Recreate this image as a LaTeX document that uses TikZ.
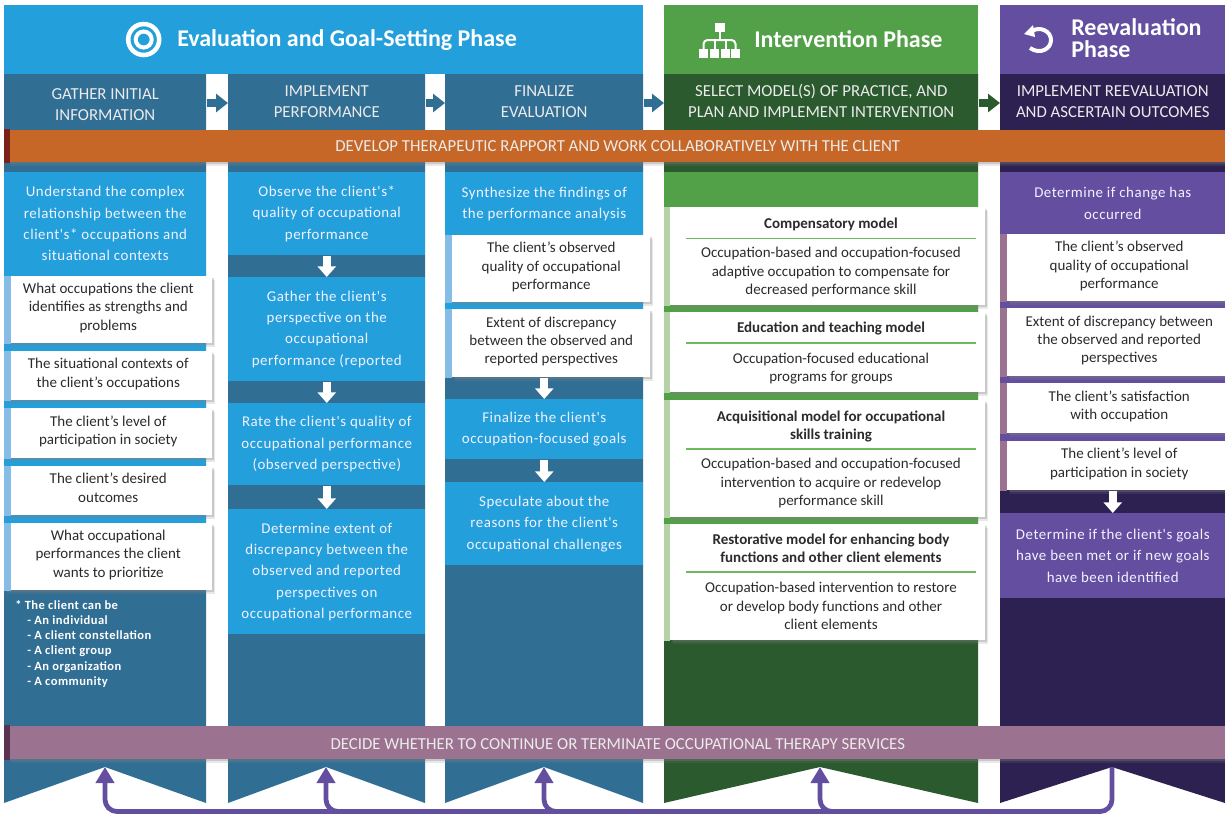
\documentclass[tikz,border=0pt]{standalone}
\usepackage{fontspec}
\setmainfont{Carlito}
\newfontfamily\spaced[LetterSpace=3.5]{Carlito}
\usepackage{tikz}
\usetikzlibrary{arrows.meta}
\usetikzlibrary{shadows}

\definecolor{ltblue}{HTML}{239FDB}
\definecolor{dkblue}{HTML}{316E94}
\definecolor{stripblue}{HTML}{85BDE6}
\definecolor{ltgreen}{HTML}{52A047}
\definecolor{dkgreen}{HTML}{2A5A2E}
\definecolor{stripgreen}{HTML}{B5D3A6}
\definecolor{rulegreen}{HTML}{6CB95E}
\definecolor{ltpurple}{HTML}{634EA0}
\definecolor{dkpurple}{HTML}{2D2152}
\definecolor{mauve}{HTML}{9B728F}
\definecolor{dkmauve}{HTML}{5A3350}
\definecolor{orange}{HTML}{C66627}
\definecolor{dkorange}{HTML}{7A2218}
\definecolor{boxtext}{HTML}{2B2B2B}

\begin{document}
\begin{tikzpicture}[x=0.75pt,y=-0.75pt]
\tikzstyle{wd}=[minimum width=#1*0.75pt]
\tikzstyle{ht}=[minimum height=#1*0.75pt]
\tikzstyle{panel}=[anchor=north west,inner sep=0pt,align=center]
\tikzstyle{phase}=[anchor=west,inner sep=0pt,align=left,text=white,font=\fontsize{18}{16.5}\selectfont\bfseries]
\tikzstyle{headtext}=[panel,text=white!92!black,font=\fontsize{12.6}{16}\selectfont]
\tikzstyle{body}=[panel,text=white!95!blue,font=\spaced\fontsize{11.2}{16}\selectfont,execute at begin node={\rule{0pt}{12.5pt}}]
\tikzstyle{whitebox}=[panel,fill=white,text=boxtext,font=\fontsize{11.25}{13.7}\selectfont,execute at end node={\rule[-4.5pt]{0pt}{0pt}},
  drop shadow={shadow xshift=2pt,shadow yshift=-2.5pt,opacity=0.18},drop shadow={shadow xshift=1pt,shadow yshift=-1.5pt,opacity=0.3}]
\tikzstyle{band}=[panel,text=white!92!black,font=\fontsize{12.6}{14}\selectfont,
  drop shadow={shadow xshift=0pt,shadow yshift=-3pt,opacity=0.18},drop shadow={shadow xshift=0pt,shadow yshift=-1.5pt,opacity=0.3}]
\tikzstyle{modeltitle}=[inner sep=0pt,align=center,text=boxtext,font=\fontsize{11.25}{13.7}\selectfont\bfseries]
\tikzstyle{modeltext}=[inner sep=0pt,align=center,text=boxtext,font=\fontsize{11.25}{13.7}\selectfont]
\tikzstyle{rule}=[rulegreen,line width=0.9pt]
\tikzstyle{stepto}=[line width=6pt,-{Triangle[length=9pt,width=13.5pt]}]
\tikzstyle{downto}=[white,line width=6pt,-{Triangle[length=8pt,width=13.5pt]}]
\tikzstyle{backline}=[ltpurple,line width=3.6pt,rounded corners=9pt]
\tikzstyle{backto}=[backline,-{Triangle[length=12pt,width=13.5pt]}]
\useasboundingbox (0,0) rectangle (1225,815);

% columns with their notched feet
\fill[dkblue] (4,74) -- (206,74) -- (206,803) -- (105,767) -- (4,803) -- cycle;
\fill[dkblue] (228,74) -- (425,74) -- (425,803) -- (326,767) -- (228,803) -- cycle;
\fill[dkblue] (445,74) -- (643,74) -- (643,803) -- (544,767) -- (445,803) -- cycle;
\fill[dkgreen] (664,74) -- (978,74) -- (978,803) -- (820,767) -- (664,803) -- cycle;
\fill[dkpurple] (1000,74) -- (1225,74) -- (1225,803) -- (1112,767) -- (1000,803) -- cycle;
\coordinate (A1) at (105,767);
\coordinate (A2) at (326,767);
\coordinate (A3) at (544,767);
\coordinate (A4) at (820,767);
\coordinate (A5) at (1112,767);
\coordinate (L) at (0,811.5);
\coordinate (Y) at (0,103);

% phase titles
\node[panel,fill=ltblue,wd=639,ht=69] (T1) at (4,5) {};
\node[panel,fill=ltgreen,wd=314,ht=69] (T2) at (664,5) {};
\node[panel,fill=ltpurple,wd=225,ht=69] (T3) at (1000,5) {};
\node[phase] (T1text) at (177,40) {Evaluation and Goal-Setting Phase};
\node[phase] (T2text) at (754,39) {Intervention Phase};
\node[phase] (T3text) at (1071,38) {Reevaluation\\Phase};

% icons
\draw[white,line width=3.4pt] (143.7,39.5) circle (15.5);
\draw[white,line width=3pt] (143.7,39.5) circle (8);
\fill[white] (715,23) rectangle (725,32);
\fill[white] (699,49) rectangle (708,58);
\fill[white] (710,49) rectangle (719,58);
\fill[white] (721,49) rectangle (730,58);
\fill[white] (731,49) rectangle (740,58);
\draw[white,line width=1.5pt,rounded corners=3pt] (703.5,50) -- (703.5,40) -- (735.5,40) -- (735.5,50);
\draw[white,line width=1.5pt] (720,31) -- (720,40) (714.5,40) -- (714.5,50) (725.5,40) -- (725.5,50);
\draw[white,line width=3pt] (1032,31) .. controls (1040,26) and (1051,31) .. (1051,40) .. controls (1051,49) and (1040,55) .. (1030,48);
\fill[white] (1024,34) -- (1033,25) -- (1035,37) -- cycle;

% step headers
\node[headtext,wd=202,ht=52] (H1) at (4,78) {GATHER INITIAL\\INFORMATION};
\node[headtext,wd=197,ht=53] (H2) at (228,75) {IMPLEMENT\\PERFORMANCE};
\node[headtext,wd=198,ht=53] (H3) at (445,75) {FINALIZE\\EVALUATION};
\node[headtext,wd=314,ht=53] (H4) at (664,74) {SELECT MODEL(S) OF PRACTICE, AND\\PLAN AND IMPLEMENT INTERVENTION};
\node[headtext,wd=225,ht=53] (H5) at (1000,75) {IMPLEMENT REEVALUATION\\AND ASCERTAIN OUTCOMES};
\draw[stepto,dkblue] (H1.east |- Y) -- (H2.west |- Y);
\draw[stepto,dkblue] (H2.east |- Y) -- (H3.west |- Y);
\draw[stepto,dkblue] (H3.east |- Y) -- (H4.west |- Y);
\draw[stepto,dkgreen] (H4.east |- Y) -- (H5.west |- Y);

% first column
\node[body,fill=ltblue,wd=202,ht=103] (P11) at (4,172) {Understand the complex\\relationship between the\\client's* occupations and\\situational contexts};
\fill[ltblue] (4,275) rectangle (206,590);
\node[whitebox,wd=208,ht=67] (B11) at (4,276) {What occupations the client\\identifies as strengths and\\problems};
\node[whitebox,wd=208,ht=49] (B12) at (4,351) {The situational contexts of\\the client's occupations};
\node[whitebox,wd=208,ht=50] (B13) at (4,408) {The client's level of\\participation in society};
\node[whitebox,wd=208,ht=49] (B14) at (4,466) {The client's desired\\outcomes};
\node[whitebox,wd=208,ht=67] (B15) at (4,523) {What occupational\\performances the client\\wants to prioritize};
\fill[stripblue] (B11.north west) rectangle ([xshift=5.25pt]B11.south west);
\fill[stripblue] (B12.north west) rectangle ([xshift=5.25pt]B12.south west);
\fill[stripblue] (B13.north west) rectangle ([xshift=5.25pt]B13.south west);
\fill[stripblue] (B14.north west) rectangle ([xshift=5.25pt]B14.south west);
\fill[stripblue] (B15.north west) rectangle ([xshift=5.25pt]B15.south west);
\node[anchor=north west,inner sep=0pt,align=left,text=white,font=\spaced\fontsize{9.4}{11.4}\selectfont\bfseries] (N1) at (15,600) {* The client can be\\
\hspace*{9pt}- An individual\\
\hspace*{9pt}- A client constellation\\
\hspace*{9pt}- A client group\\
\hspace*{9pt}- An organization\\
\hspace*{9pt}- A community};

% second column
\node[body,fill=ltblue,wd=197,ht=83] (P21) at (228,172) {Observe the client's*\\quality of occupational\\performance};
\node[body,fill=ltblue,wd=197,ht=104] (P22) at (228,277) {Gather the client's\\perspective on the\\occupational\\performance (reported};
\node[body,fill=ltblue,wd=197,ht=82] (P23) at (228,403) {Rate the client's quality of\\occupational performance\\(observed perspective)};
\node[body,fill=ltblue,wd=197,ht=125] (P24) at (228,509) {Determine extent of\\discrepancy between the\\observed and reported\\perspectives on\\occupational performance};
\draw[downto] (P21.south) -- (P22.north);
\draw[downto] (P22.south) -- (P23.north);
\draw[downto] (P23.south) -- (P24.north);

% third column
\node[body,fill=ltblue,wd=198,ht=63] (P31) at (445,172) {Synthesize the findings of\\the performance analysis};
\fill[ltblue] (445,235) rectangle (643,377);
\node[whitebox,wd=198,ht=67] (B31) at (452,235) {The client's observed\\quality of occupational\\performance};
\node[whitebox,wd=198,ht=68] (B32) at (452,309) {Extent of discrepancy\\between the observed and\\reported perspectives};
\fill[stripblue] ([xshift=-5.25pt]B31.north west) rectangle (B31.south west);
\fill[stripblue] ([xshift=-5.25pt]B32.north west) rectangle (B32.south west);
\node[body,fill=ltblue,wd=198,ht=60] (P32) at (445,399) {Finalize the client's\\occupation-focused goals};
\node[body,fill=ltblue,wd=198,ht=83] (P33) at (445,482) {Speculate about the\\reasons for the client's\\occupational challenges};
\draw[downto] (P32.north |- B32.south) -- (P32.north);
\draw[downto] (P32.south) -- (P33.north);

% intervention column
\fill[ltgreen] (664,172) rectangle (978,640);
\node[whitebox,wd=315,ht=98] (G1) at (670,207) {};
\node[whitebox,wd=315,ht=80] (G2) at (670,312) {};
\node[whitebox,wd=315,ht=117] (G3) at (670,400) {};
\node[whitebox,wd=315,ht=116] (G4) at (670,524) {};
\fill[stripgreen] ([xshift=-4.5pt]G1.north west) rectangle (G1.south west);
\fill[stripgreen] ([xshift=-4.5pt]G2.north west) rectangle (G2.south west);
\fill[stripgreen] ([xshift=-4.5pt]G3.north west) rectangle (G3.south west);
\fill[stripgreen] ([xshift=-4.5pt]G4.north west) rectangle (G4.south west);
\node[modeltitle] (M1) at (831,224.5) {Compensatory model};
\draw[rule] (686,238.5) -- (976,238.5);
\node[modeltext] (D1) at (831,272) {Occupation-based and occupation-focused\\adaptive occupation to compensate for\\decreased performance skill};
\node[modeltitle] (M2) at (831,328.5) {Education and teaching model};
\draw[rule] (686,343) -- (976,343);
\node[modeltext] (D2) at (831,368.5) {Occupation-focused educational\\programs for groups};
\node[modeltitle] (M3) at (831,426.5) {Acquisitional model for occupational\\skills training};
\draw[rule] (686,449) -- (976,449);
\node[modeltext] (D3) at (831,483) {Occupation-based and occupation-focused\\intervention to acquire or redevelop\\performance skill};
\node[modeltitle] (M4) at (831,548.5) {Restorative model for enhancing body\\functions and other client elements};
\draw[rule] (686,572) -- (976,572);
\node[modeltext] (D4) at (831,606) {Occupation-based intervention to restore\\or develop body functions and other\\client elements};

% reevaluation column
\node[body,fill=ltpurple,wd=225,ht=62] (P51) at (1000,172) {Determine if change has\\occurred};
\fill[ltpurple] (1000,234) rectangle (1225,490);
\node[whitebox,wd=224,ht=67] (B51) at (1007,234) {The client's observed\\quality of occupational\\performance};
\node[whitebox,wd=224,ht=68] (B52) at (1007,308) {Extent of discrepancy between\\the observed and reported\\perspectives};
\node[whitebox,wd=224,ht=50] (B53) at (1007,383) {The client's satisfaction\\with occupation};
\node[whitebox,wd=224,ht=49] (B54) at (1007,441) {The client's level of\\participation in society};
\fill[mauve] ([xshift=-5.25pt]B51.north west) rectangle (B51.south west);
\fill[mauve] ([xshift=-5.25pt]B52.north west) rectangle (B52.south west);
\fill[mauve] ([xshift=-5.25pt]B53.north west) rectangle (B53.south west);
\fill[mauve] ([xshift=-5.25pt]B54.north west) rectangle (B54.south west);
\node[body,fill=ltpurple,wd=225,ht=85] (P52) at (1000,513) {Determine if the client's goals\\have been met or if new goals\\have been identified};
\draw[downto] (P52.north |- B54.south) -- (P52.north);

% the two bands across all columns
\node[band,fill=orange,wd=1215,ht=32] (R1) at (10,130) {DEVELOP THERAPEUTIC RAPPORT AND WORK COLLABORATIVELY WITH THE CLIENT};
\fill[dkorange] (R1.north west) ++(-6,-1) rectangle (R1.south west);
\node[band,fill=mauve,wd=1215,ht=33] (R2) at (10,726) {\rule{0pt}{10.6pt}DECIDE WHETHER TO CONTINUE OR TERMINATE OCCUPATIONAL THERAPY SERVICES};
\fill[dkmauve] (R2.north west) ++(-6,-1) rectangle (R2.south west);

% way back from reevaluation
\draw[backto] (A5) -- (A5 |- L) -- (A1 |- L) -- (A1);
\draw[backto] (A2 |- L) ++(16,0) -- (A2 |- L) -- (A2);
\draw[backto] (A3 |- L) ++(16,0) -- (A3 |- L) -- (A3);
\draw[backto] (A4 |- L) ++(16,0) -- (A4 |- L) -- (A4);
\end{tikzpicture}
\end{document}
